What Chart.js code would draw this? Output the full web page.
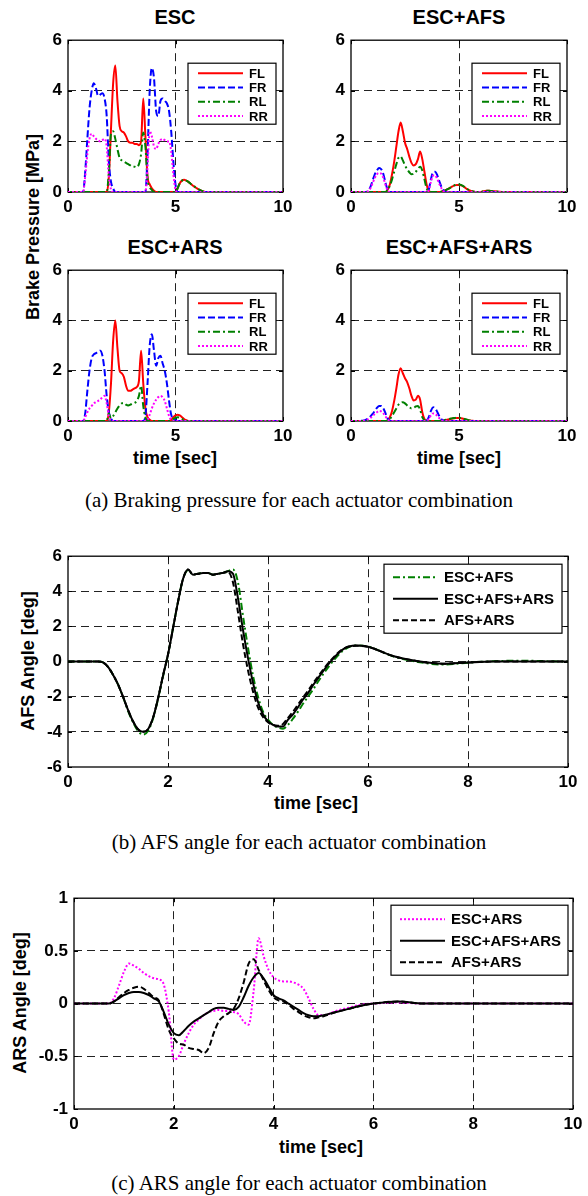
<!DOCTYPE html>
<html>
<head>
<meta charset="utf-8">
<script src="https://cdn.jsdelivr.net/npm/chart.js@4.4.0/dist/chart.umd.min.js"></script>
<style>
  body { margin: 0; background: #fff; }
  #page { position: relative; width: 588px; height: 1196px; overflow: hidden; background: #fff;
          font-family: "Liberation Sans", Arial, sans-serif; }
  #page canvas { position: absolute; }
  .lbl { position: absolute; font-weight: bold; font-size: 18px; white-space: nowrap;
         transform: translate(-50%, -50%); color: #000; }
  .ttl { font-size: 20px; }
  .rot { transform: translate(-50%, -50%) rotate(-90deg); }
  .cap { font-family: "Liberation Serif", "Times New Roman", serif; font-weight: normal; font-size: 21px; }
</style>
</head>
<body>
<div id="page">
  <div class="lbl ttl" style="left:175px;top:17px">ESC</div>
  <div class="lbl ttl" style="left:459px;top:17px">ESC+AFS</div>
  <div class="lbl ttl" style="left:175px;top:247px">ESC+ARS</div>
  <div class="lbl ttl" style="left:459px;top:247px">ESC+AFS+ARS</div>
  <div class="lbl rot" style="left:33px;top:227px">Brake Pressure [MPa]</div>
  <div class="lbl" style="left:175px;top:458px">time [sec]</div>
  <div class="lbl" style="left:459px;top:458px">time [sec]</div>
  <div class="lbl cap" style="left:299px;top:500px">(a) Braking pressure for each actuator combination</div>

  <div class="lbl rot" style="left:28px;top:661px">AFS Angle [deg]</div>
  <div class="lbl" style="left:316px;top:803px">time [sec]</div>
  <div class="lbl cap" style="left:299px;top:842px">(b) AFS angle for each actuator combination</div>

  <div class="lbl rot" style="left:20px;top:1003px">ARS Angle [deg]</div>
  <div class="lbl" style="left:321px;top:1147px">time [sec]</div>
  <div class="lbl cap" style="left:299px;top:1183px">(c) ARS angle for each actuator combination</div>
</div>
<script>
// ---------- (a) brake pressure, MPa ----------
const TIME_A = [0, 0.6, 0.7, 0.8, 0.9, 1.0, 1.1, 1.2, 1.3, 1.4,
  1.5, 1.6, 1.7, 1.8, 1.9, 2.0, 2.1, 2.2, 2.3, 2.4,
  2.5, 2.6, 2.7, 2.8, 2.9, 3.0, 3.1, 3.2, 3.3, 3.4,
  3.5, 3.6, 3.7, 3.8, 3.9, 4.0, 4.1, 4.2, 4.3, 4.4,
  4.5, 4.6, 4.7, 4.8, 4.9, 5.0, 5.1, 5.2, 5.3, 5.4,
  5.5, 5.6, 5.7, 5.8, 5.9, 6.0, 6.1, 6.2, 6.3, 6.4,
  6.5, 7, 10];
const WHEELS = ['FL', 'FR', 'RL', 'RR'];
const X_TICKS_A = [0, 5, 10];
const Y_TICKS_A = [0, 2, 4, 6];

// ESC
const ESC_FL = [0, 0, 0, 0, 0, 0, 0, 0, 0, 0,
  0, 0, 0, 0, 0.6, 2.5, 4.3, 5.0, 3.6, 2.6,
  2.4, 2.35, 2.2, 2.0, 1.95, 1.95, 1.9, 1.9, 1.85, 2.0,
  3.7, 2.2, 0.6, 0.3, 0.15, 0.05, 0, 0, 0, 0,
  0, 0, 0, 0, 0, 0, 0.15, 0.35, 0.45, 0.48,
  0.45, 0.4, 0.33, 0.26, 0.2, 0.14, 0.09, 0.05, 0.02, 0,
  0, 0, 0];
const ESC_FR = [0, 0, 0, 0.8, 2.1, 3.3, 4.0, 4.3, 4.1, 3.8,
  3.85, 3.9, 3.7, 3.0, 1.2, 0.4, 0.15, 0, 0, 0,
  0, 0, 0, 0, 0, 0, 0, 0, 0, 0,
  0, 0, 1.5, 4.0, 4.9, 4.5, 3.2, 3.0, 3.6, 3.7,
  3.6, 3.5, 3.2, 2.4, 1.2, 0.3, 0, 0, 0, 0,
  0, 0, 0, 0, 0, 0, 0, 0, 0, 0,
  0, 0, 0];
const ESC_RL = [0, 0, 0, 0, 0, 0, 0, 0, 0, 0,
  0, 0, 0, 0, 0.8, 2.3, 2.4, 2.1, 1.7, 1.35,
  1.25, 1.2, 1.15, 1.1, 1.05, 1.0, 1.0, 0.98, 1.1, 1.5,
  2.35, 1.8, 0.5, 0.2, 0.08, 0, 0, 0, 0, 0,
  0, 0, 0, 0, 0, 0, 0.15, 0.35, 0.45, 0.48,
  0.45, 0.4, 0.33, 0.26, 0.2, 0.14, 0.09, 0.05, 0.02, 0,
  0, 0, 0];
const ESC_RR = [0, 0, 0, 0.6, 1.5, 2.1, 2.3, 2.2, 2.1, 2.05,
  2.0, 2.05, 2.1, 1.8, 0.6, 0.1, 0, 0, 0, 0,
  0, 0, 0, 0, 0, 0, 0, 0, 0, 0,
  0, 0, 1.0, 2.4, 2.2, 1.8, 1.7, 1.9, 2.05, 2.1,
  2.05, 2.0, 2.0, 1.6, 0.7, 0.1, 0, 0, 0, 0,
  0, 0, 0, 0, 0, 0, 0, 0, 0, 0,
  0, 0, 0];

// ESC+AFS
const AFS_FL = [0, 0, 0, 0, 0, 0, 0, 0, 0, 0,
  0, 0, 0.1, 0.3, 0.7, 1.2, 1.8, 2.4, 2.75, 2.4,
  1.95, 1.7, 1.4, 1.15, 1.05, 1.1, 1.3, 1.6, 1.3, 0.8,
  0.3, 0.05, 0, 0, 0, 0, 0, 0.02, 0.05, 0.08,
  0.12, 0.17, 0.22, 0.26, 0.28, 0.28, 0.26, 0.22, 0.16, 0.1,
  0.06, 0.03, 0.01, 0, 0, 0, 0.02, 0.04, 0.05, 0.05,
  0.04, 0, 0];
const AFS_FR = [0, 0, 0, 0.05, 0.2, 0.45, 0.7, 0.85, 0.95, 0.9,
  0.7, 0.35, 0.08, 0, 0, 0, 0, 0, 0, 0,
  0, 0, 0, 0, 0, 0, 0, 0, 0, 0,
  0, 0.1, 0.5, 0.78, 0.8, 0.65, 0.4, 0.18, 0.05, 0,
  0, 0, 0, 0, 0, 0, 0, 0, 0, 0,
  0, 0, 0, 0, 0, 0, 0, 0, 0, 0,
  0, 0, 0];
const AFS_RL = [0, 0, 0, 0, 0, 0, 0, 0, 0, 0,
  0, 0, 0.1, 0.25, 0.5, 0.8, 1.1, 1.35, 1.4, 1.25,
  1.05, 0.9, 0.78, 0.7, 0.72, 0.8, 0.92, 1.0, 0.85, 0.5,
  0.15, 0.02, 0, 0, 0, 0, 0, 0.02, 0.05, 0.08,
  0.12, 0.17, 0.22, 0.27, 0.3, 0.3, 0.28, 0.23, 0.17, 0.11,
  0.06, 0.03, 0.01, 0, 0, 0, 0.02, 0.04, 0.05, 0.05,
  0.04, 0, 0];
const AFS_RR = [0, 0, 0, 0.04, 0.15, 0.35, 0.55, 0.7, 0.75, 0.72,
  0.55, 0.28, 0.06, 0, 0, 0, 0, 0, 0, 0,
  0, 0, 0, 0, 0, 0, 0, 0, 0, 0,
  0, 0.08, 0.4, 0.65, 0.65, 0.5, 0.3, 0.13, 0.03, 0,
  0, 0, 0, 0, 0, 0, 0, 0, 0, 0,
  0, 0, 0, 0, 0, 0, 0, 0, 0, 0,
  0, 0, 0];

// ESC+ARS
const ARS_FL = [0, 0, 0, 0, 0, 0, 0, 0, 0, 0,
  0, 0, 0, 0, 0.35, 1.5, 3.2, 4.0, 2.9, 2.0,
  1.9, 1.75, 1.4, 1.2, 1.2, 1.25, 1.3, 1.35, 1.6, 2.8,
  1.5, 0.5, 0.15, 0.05, 0, 0, 0, 0, 0, 0,
  0, 0, 0, 0.05, 0.15, 0.22, 0.25, 0.22, 0.15, 0.08,
  0.03, 0, 0, 0, 0, 0, 0, 0, 0, 0,
  0, 0, 0];
const ARS_FR = [0, 0, 0, 0.3, 1.2, 2.0, 2.5, 2.65, 2.7, 2.75,
  2.8, 2.6, 2.0, 1.0, 0.35, 0.1, 0, 0, 0, 0,
  0, 0, 0, 0, 0, 0, 0, 0, 0, 0,
  0, 0.2, 1.5, 3.0, 3.45, 2.8, 2.2, 2.5, 2.6, 2.3,
  2.0, 1.5, 0.8, 0.25, 0.1, 0.05, 0, 0, 0, 0,
  0, 0, 0, 0, 0, 0, 0, 0, 0, 0,
  0, 0, 0];
const ARS_RL = [0, 0, 0, 0, 0, 0, 0, 0, 0, 0,
  0, 0, 0, 0, 0.3, 0.1, 0.2, 0.35, 0.5, 0.62,
  0.7, 0.72, 0.65, 0.62, 0.65, 0.7, 0.72, 0.8, 1.0, 1.4,
  0.6, 0.15, 0.03, 0, 0, 0, 0, 0, 0, 0,
  0, 0, 0, 0.02, 0.08, 0.13, 0.15, 0.13, 0.08, 0.04,
  0.01, 0, 0, 0, 0, 0, 0, 0, 0, 0,
  0, 0, 0];
const ARS_RR = [0, 0, 0, 0.15, 0.35, 0.5, 0.6, 0.7, 0.75, 0.8,
  0.85, 0.95, 1.0, 0.7, 0.2, 0.02, 0, 0, 0, 0,
  0, 0, 0, 0, 0, 0, 0, 0, 0, 0,
  0, 0, 0.05, 0.25, 0.5, 0.7, 0.85, 0.95, 1.0, 0.95,
  0.8, 0.5, 0.2, 0.05, 0, 0, 0, 0, 0, 0,
  0, 0, 0, 0, 0, 0, 0, 0, 0, 0,
  0, 0, 0];

// ESC+AFS+ARS
const ALL_FL = [0, 0, 0, 0, 0, 0, 0, 0, 0, 0,
  0, 0, 0.02, 0.15, 0.4, 0.8, 1.3, 1.85, 2.1, 1.9,
  1.7, 1.55, 1.3, 1.0, 0.82, 0.85, 1.0, 0.85, 0.35, 0.08,
  0, 0, 0, 0, 0, 0, 0, 0.01, 0.02, 0.04,
  0.06, 0.08, 0.1, 0.11, 0.12, 0.12, 0.11, 0.09, 0.06, 0.04,
  0.02, 0.01, 0, 0, 0, 0, 0, 0, 0, 0,
  0, 0, 0];
const ALL_FR = [0, 0.02, 0.05, 0.1, 0.18, 0.28, 0.4, 0.52, 0.6, 0.6,
  0.5, 0.3, 0.1, 0.02, 0, 0, 0, 0, 0, 0,
  0, 0, 0, 0, 0, 0, 0, 0, 0, 0,
  0.02, 0.15, 0.4, 0.55, 0.5, 0.35, 0.18, 0.06, 0.01, 0,
  0, 0, 0, 0, 0, 0, 0, 0, 0, 0,
  0, 0, 0, 0, 0, 0, 0, 0, 0, 0,
  0, 0, 0];
const ALL_RL = [0, 0, 0, 0, 0, 0, 0, 0, 0, 0,
  0, 0, 0.02, 0.08, 0.2, 0.35, 0.5, 0.65, 0.72, 0.75,
  0.7, 0.62, 0.55, 0.5, 0.52, 0.58, 0.6, 0.45, 0.15, 0.03,
  0, 0, 0, 0, 0, 0, 0, 0.01, 0.03, 0.05,
  0.07, 0.09, 0.11, 0.12, 0.13, 0.13, 0.12, 0.1, 0.07, 0.04,
  0.02, 0.01, 0, 0, 0, 0, 0, 0, 0, 0,
  0, 0, 0];
const ALL_RR = [0, 0.01, 0.03, 0.07, 0.12, 0.2, 0.28, 0.35, 0.4, 0.38,
  0.3, 0.18, 0.06, 0.01, 0, 0, 0, 0, 0, 0,
  0, 0, 0, 0, 0, 0, 0, 0, 0, 0,
  0.01, 0.08, 0.22, 0.3, 0.28, 0.2, 0.1, 0.03, 0, 0,
  0, 0, 0, 0, 0, 0, 0, 0, 0, 0,
  0, 0, 0, 0, 0, 0, 0, 0, 0, 0,
  0, 0, 0];

// ---------- (b) AFS angle, deg ----------
const TIME_B = [0, 0.6, 0.7, 0.8, 0.9, 1.0, 1.1, 1.2, 1.3, 1.4,
  1.5, 1.6, 1.7, 1.8, 1.9, 2.0, 2.1, 2.2, 2.3, 2.4,
  2.5, 2.6, 2.7, 2.8, 2.9, 3.0, 3.1, 3.2, 3.3, 3.4,
  3.5, 3.6, 3.7, 3.8, 3.9, 4.0, 4.1, 4.2, 4.3, 4.4,
  4.5, 4.6, 4.7, 4.8, 4.9, 5.0, 5.25, 5.5, 5.75, 6.0,
  6.5, 7, 7.5, 8, 8.5, 9, 10];
const LABELS_B = ['ESC+AFS', 'ESC+AFS+ARS', 'AFS+ARS'];
const AFS_ESC_AFS = [0, 0, -0.05, -0.3, -0.75, -1.3, -2.0, -2.8, -3.45, -3.95,
  -4.15, -3.95, -3.25, -2.15, -0.85, 0.4, 1.9, 3.4, 4.7, 5.2,
  4.95, 5.0, 5.05, 5.05, 4.95, 5.0, 5.05, 5.15, 5.25, 4.5,
  2.6, 0.8, -0.8, -2.0, -2.85, -3.3, -3.6, -3.75, -3.82, -3.6,
  -3.25, -2.85, -2.4, -2.0, -1.6, -1.15, -0.15, 0.62, 0.92, 0.86,
  0.3, -0.02, -0.17, -0.06, 0.02, 0.05, 0];
const AFS_ESC_AFS_ARS = [0, 0, -0.05, -0.3, -0.75, -1.3, -2.0, -2.75, -3.4, -3.85,
  -4.0, -3.85, -3.2, -2.1, -0.8, 0.4, 1.9, 3.4, 4.7, 5.25,
  4.95, 5.0, 5.05, 5.05, 4.95, 5.0, 5.05, 5.15, 5.0, 3.6,
  1.8, 0.2, -1.2, -2.3, -3.0, -3.4, -3.6, -3.7, -3.7, -3.3,
  -3.0, -2.6, -2.15, -1.8, -1.35, -0.95, 0.0, 0.7, 0.92, 0.85,
  0.32, 0.02, -0.12, -0.05, 0, 0, 0];
const AFS_AFS_ARS = [0, 0, -0.05, -0.3, -0.75, -1.3, -2.0, -2.75, -3.4, -3.85,
  -4.0, -3.85, -3.2, -2.1, -0.8, 0.4, 1.9, 3.4, 4.7, 5.25,
  4.95, 5.0, 5.05, 5.05, 4.95, 5.0, 5.05, 5.1, 4.5, 2.8,
  1.0, -0.5, -1.7, -2.6, -3.15, -3.45, -3.6, -3.65, -3.55, -3.2,
  -2.85, -2.45, -2.05, -1.65, -1.25, -0.85, 0.05, 0.72, 0.9, 0.84,
  0.32, 0.02, -0.12, -0.05, 0, 0, 0];
const X_TICKS_B = [0, 2, 4, 6, 8, 10];
const Y_TICKS_B = [-6, -4, -2, 0, 2, 4, 6];

// ---------- (c) ARS angle, deg ----------
const TIME_C = [0, 0.7, 0.8, 0.9, 1.0, 1.1, 1.2, 1.3, 1.4, 1.5,
  1.6, 1.7, 1.8, 1.9, 2.0, 2.1, 2.2, 2.3, 2.4, 2.5,
  2.6, 2.7, 2.8, 2.9, 3.0, 3.1, 3.2, 3.3, 3.4, 3.5,
  3.6, 3.7, 3.8, 3.9, 4.0, 4.1, 4.2, 4.3, 4.4, 4.5,
  4.6, 4.7, 4.8, 4.9, 5.0, 5.25, 5.5, 5.75, 6.0, 6.5,
  7, 8, 10];
const LABELS_C = ['ESC+ARS', 'ESC+AFS+ARS', 'AFS+ARS'];
const ARS_ESC_ARS = [0, 0, 0.05, 0.17, 0.3, 0.38, 0.36, 0.33, 0.29, 0.26,
  0.24, 0.23, 0.18, -0.08, -0.53, -0.5, -0.38, -0.28, -0.2, -0.15,
  -0.11, -0.08, -0.07, -0.06, -0.07, -0.07, -0.08, -0.1, -0.17, -0.2,
  0.12, 0.62, 0.45, 0.32, 0.25, 0.22, 0.21, 0.21, 0.2, 0.18,
  0.14, 0.05, -0.05, -0.11, -0.11, -0.07, -0.04, -0.01, 0, 0.01,
  0, 0, 0];
const ARS_ESC_AFS_ARS = [0, 0, 0.02, 0.05, 0.08, 0.1, 0.11, 0.11, 0.1, 0.08,
  0.05, 0.02, -0.08, -0.2, -0.28, -0.3, -0.26, -0.21, -0.17, -0.14,
  -0.11, -0.08, -0.05, -0.04, -0.04, -0.05, -0.06, -0.03, 0.06, 0.17,
  0.25, 0.29, 0.24, 0.16, 0.08, 0.05, 0.03, 0.0, -0.03, -0.06,
  -0.09, -0.11, -0.12, -0.12, -0.11, -0.08, -0.05, -0.02, 0, 0.02,
  0, 0, 0];
const ARS_AFS_ARS = [0, 0, 0.02, 0.06, 0.1, 0.13, 0.15, 0.16, 0.14, 0.1,
  0.06, 0.03, -0.1, -0.25, -0.33, -0.38, -0.39, -0.42, -0.43, -0.44,
  -0.47, -0.42, -0.28, -0.17, -0.12, -0.09, -0.05, 0.05, 0.2, 0.38,
  0.42, 0.32, 0.22, 0.13, 0.06, 0.03, 0.02, -0.01, -0.05, -0.08,
  -0.11, -0.13, -0.14, -0.13, -0.12, -0.08, -0.05, -0.02, 0, 0.02,
  0, 0, 0];
const X_TICKS_C = [0, 2, 4, 6, 8, 10];
const Y_TICKS_C = [-1, -0.5, 0, 0.5, 1];

// ---------- styles ----------
const RED = '#ff0000', BLUE = '#0000ff', GREEN = '#008000', MAGENTA = '#ff00ff', BLACK = '#000000';
const SOLID = [], DASH = [7, 3], DASHDOT = [7, 3, 2, 3], DOT = [2, 2];
const WHEEL_STYLE = [[RED, SOLID], [BLUE, DASH], [GREEN, DASHDOT], [MAGENTA, DOT]];
const FONT = '"Liberation Sans", Arial, sans-serif';

const framePlugin = {
  id: 'frame',
  beforeDatasetsDraw(chart) {
    const { ctx, chartArea: a, scales } = chart;
    ctx.save();
    ctx.setLineDash([]);
    ctx.strokeStyle = '#000';
    ctx.lineWidth = 1.3;
    ctx.strokeRect(a.left, a.top, a.right - a.left, a.bottom - a.top);
    ctx.lineWidth = 1;
    ctx.beginPath();
    scales.x.ticks.forEach(t => {
      const p = Math.round(scales.x.getPixelForValue(t.value)) + 0.5;
      ctx.moveTo(p, a.bottom); ctx.lineTo(p, a.bottom - 4);
      ctx.moveTo(p, a.top); ctx.lineTo(p, a.top + 4);
    });
    scales.y.ticks.forEach(t => {
      const p = Math.round(scales.y.getPixelForValue(t.value)) + 0.5;
      ctx.moveTo(a.left, p); ctx.lineTo(a.left + 4, p);
      ctx.moveTo(a.right, p); ctx.lineTo(a.right - 4, p);
    });
    ctx.stroke();
    ctx.restore();
  }
};

const boxLegend = {
  id: 'boxLegend',
  afterDatasetsDraw(chart, args, o) {
    const { ctx, chartArea: a } = chart;
    const x0 = a.right - o.right - o.w, y0 = a.top + o.top;
    ctx.save();
    ctx.fillStyle = '#fff';
    ctx.fillRect(x0, y0, o.w, o.h);
    ctx.setLineDash([]);
    ctx.strokeStyle = '#000';
    ctx.lineWidth = 1.2;
    ctx.strokeRect(x0, y0, o.w, o.h);
    ctx.font = 'bold ' + o.size + 'px ' + FONT;
    ctx.textBaseline = 'middle';
    ctx.textAlign = 'left';
    chart.data.datasets.forEach((ds, i) => {
      const y = y0 + o.row0 + i * o.rowH;
      ctx.strokeStyle = ds.borderColor;
      ctx.lineWidth = ds.borderWidth;
      ctx.setLineDash(ds.borderDash);
      ctx.beginPath();
      ctx.moveTo(x0 + o.sx, y);
      ctx.lineTo(x0 + o.sx + o.sl, y);
      ctx.stroke();
      ctx.fillStyle = '#000';
      ctx.fillText(ds.label, x0 + o.tx, y + 1);
    });
    ctx.restore();
  }
};

function series(label, t, v, style, i, n) {
  return {
    label,
    data: t.map((x, k) => ({ x, y: v[k] })),
    borderColor: style[0],
    borderDash: style[1],
    borderWidth: 2,
    pointRadius: 0,
    fill: false,
    cubicInterpolationMode: 'monotone',
    order: n - 1 - i
  };
}

function axis(ticks, extra) {
  const min = ticks[0], max = ticks[ticks.length - 1];
  return Object.assign({
    type: 'linear', min, max,
    afterBuildTicks: s => { s.ticks = ticks.map(v => ({ value: v })); },
    ticks: { color: '#000', font: { family: FONT, size: 17, weight: 'bold' }, callback: v => String(v) },
    grid: {
      drawTicks: false, lineWidth: 1,
      color: c => (c.tick && (c.tick.value === min || c.tick.value === max)) ? 'rgba(0,0,0,0)' : '#222'
    },
    border: { display: false, dash: [8, 5] }
  }, extra);
}

function panel(plot, datasets, xTicks, yTicks, legend) {
  const M = { l: 56, t: 14, r: 16, b: 30 };
  const cv = document.createElement('canvas');
  const W = plot.w + M.l + M.r, H = plot.h + M.t + M.b;
  cv.width = W; cv.height = H;
  cv.style.left = (plot.x - M.l) + 'px';
  cv.style.top = (plot.y - M.t) + 'px';
  cv.style.width = W + 'px';
  cv.style.height = H + 'px';
  document.getElementById('page').appendChild(cv);
  const xa = axis(xTicks, { afterFit: s => { s.height = M.b; } });
  xa.ticks.padding = 5;
  const ya = axis(yTicks, { afterFit: s => { s.width = M.l; } });
  ya.ticks.padding = 6;
  return new Chart(cv, {
    type: 'line',
    data: { datasets },
    options: {
      responsive: false,
      animation: false,
      events: [],
      layout: { padding: { top: M.t, right: M.r, left: 0, bottom: 0 } },
      plugins: { legend: { display: false }, tooltip: { enabled: false }, boxLegend: legend },
      scales: { x: xa, y: ya }
    },
    plugins: [framePlugin, boxLegend]
  });
}

function wheelSets(vals) {
  return vals.map((v, i) => series(WHEELS[i], TIME_A, v, WHEEL_STYLE[i], i, 4));
}

const LEG_A = { right: 7, top: 23, w: 88, h: 61, row0: 10, rowH: 14.3, sx: 10, sl: 45, tx: 61, size: 13 };

panel({ x: 68, y: 38, w: 215, h: 154 }, wheelSets([ESC_FL, ESC_FR, ESC_RL, ESC_RR]), X_TICKS_A, Y_TICKS_A, LEG_A);
panel({ x: 351, y: 38, w: 216, h: 154 }, wheelSets([AFS_FL, AFS_FR, AFS_RL, AFS_RR]), X_TICKS_A, Y_TICKS_A, LEG_A);
panel({ x: 68, y: 268, w: 215, h: 153 }, wheelSets([ARS_FL, ARS_FR, ARS_RL, ARS_RR]), X_TICKS_A, Y_TICKS_A, LEG_A);
panel({ x: 351, y: 268, w: 216, h: 153 }, wheelSets([ALL_FL, ALL_FR, ALL_RL, ALL_RR]), X_TICKS_A, Y_TICKS_A, LEG_A);

const STYLE_B = [[GREEN, DASHDOT], [BLACK, SOLID], [BLACK, [6, 3]]];
panel({ x: 68, y: 554, w: 500, h: 213 },
  [AFS_ESC_AFS, AFS_ESC_AFS_ARS, AFS_AFS_ARS].map((v, i) => series(LABELS_B[i], TIME_B, v, STYLE_B[i], i, 3)),
  X_TICKS_B, Y_TICKS_B,
  { right: 6, top: 8, w: 178, h: 69, row0: 13, rowH: 21.5, sx: 9, sl: 45, tx: 60, size: 15 });

const STYLE_C = [[MAGENTA, DOT], [BLACK, SOLID], [BLACK, [6, 3]]];
panel({ x: 74, y: 896, w: 499, h: 213 },
  [ARS_ESC_ARS, ARS_ESC_AFS_ARS, ARS_AFS_ARS].map((v, i) => series(LABELS_C[i], TIME_C, v, STYLE_C[i], i, 3)),
  X_TICKS_C, Y_TICKS_C,
  { right: 5, top: 7, w: 177, h: 70, row0: 14, rowH: 21.5, sx: 9, sl: 45, tx: 60, size: 15 });
</script>
</body>
</html>
